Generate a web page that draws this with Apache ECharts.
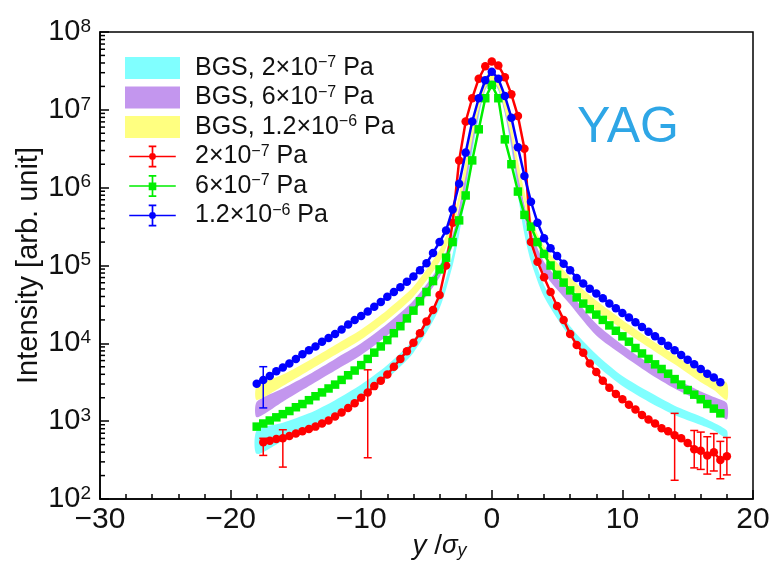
<!DOCTYPE html>
<html>
<head>
<meta charset="utf-8">
<title>YAG beam profile</title>
<script src="https://cdn.jsdelivr.net/npm/echarts@6/dist/echarts.min.js"></script>
<style>
  html, body { margin: 0; padding: 0; background: #fff; }
  #chart { width: 772px; height: 562px; }
</style>
</head>
<body>
<div id="chart"></div>
<script>
// Positions along the profile, in units of the beam size sigma_y
const positions = [-18, -17.5, -17, -16.5, -16, -15.5, -15, -14.5, -14, -13.5, -13, -12.5, -12, -11.5, -11, -10.5,
  -10, -9.5, -9, -8.5, -8, -7.5, -7, -6.5, -6, -5.5, -5, -4.5, -4, -3.5, -3, -2.5, -2, -1.5, -1, -0.5,
  0, 0.5, 1, 1.5, 2, 2.5, 3, 3.5, 4, 4.5, 5, 5.5, 6, 6.5, 7, 7.5, 8, 8.5, 9, 9.5, 10, 10.5,
  11, 11.5, 12, 12.5, 13, 13.5, 14, 14.5, 15, 15.5, 16, 16.5, 17, 17.5, 18];

// Measured intensity at 2e-7 Pa
const red = [null, 537, 562, 589, 603, 646, 692, 741, 794, 851, 933, 1020, 1150, 1290, 1480, 1700,
  2000, 2340, 2820, 3310, 3980, 5010, 6310, 7940, 10200, 13500, 19100, 26900, 41700, 100000, 355000, 2240000, 7080000, 14100000, 25100000, 36300000,
  41700000, 37200000, 26300000, 15800000, 8320000, 3160000, 200000, 112000, 70800, 45700, 30200, 20000, 13200, 9550, 7590, 5500, 4270, 3310, 2690, 2240, 1910, 1620,
  1410, 1200, 1050, 933, 813, 741, 661, 603, 525, 437, 417, 363, 398, 316, 355];

// Measured intensity at 6e-7 Pa
const green = [851, 933, 1020, 1120, 1230, 1350, 1510, 1660, 1860, 2090, 2340, 2630, 2950, 3390, 3890, 4470,
  5250, 6310, 7590, 9120, 11000, 13500, 16600, 20900, 26300, 34700, 45700, 63100, 89100, 126000, 200000, 380000, 794000, 2240000, 5620000, 14100000,
  20900000, 14100000, 4170000, 2000000, 891000, 447000, 316000, 200000, 141000, 100000, 75900, 60300, 47900, 38900, 32400, 27500, 23400, 20000, 17000, 14500, 12300, 10500,
  8710, 7410, 6310, 5370, 4680, 4070, 3470, 2950, 2510, 2190, 1910, 1660, 1450, 1260, null];

// Measured intensity at 1.2e-6 Pa
const blue = [3020, 3390, 3800, 4370, 4900, 5500, 6310, 7240, 8130, 9120, 10500, 11700, 13200, 15100, 17400, 20000,
  22400, 25700, 29500, 33900, 39800, 45700, 52500, 61700, 72400, 87100, 107000, 145000, 200000, 282000, 525000, 1120000, 2820000, 7080000, 14100000, 24000000,
  30900000, 25100000, 15100000, 7940000, 3310000, 1410000, 661000, 355000, 224000, 166000, 132000, 105000, 87100, 69200, 58900, 50100, 43700, 38000, 32400, 28200, 24500, 21400,
  18600, 16200, 14100, 12300, 10700, 9330, 8130, 7080, 6170, 5370, 4680, 4070, 3630, 3160, null];

// Error bars: [position, low, high]
const redErrors = [[-17.5, 363, 603], [-16, 257, 776], [-9.5, 339, 4570], [14, 174, 1260],
  [15.5, 251, 759], [16, 240, 724], [16.5, 209, 631], [17, 229, 692], [17.5, 182, 550], [18, 204, 617]];
const blueErrors = [[-17.5, 1480, 5010]];

// Beam-gas scattering simulation bands (lower / upper edge)
const bandPositions = [-18, -16, -14, -12, -10, -8, -6, -4, -3, -2.5, -2, -1.5, -1, -0.5, 0, 0.5, 1, 1.5, 2, 2.5, 3, 4, 6, 8, 10, 12, 14, 16, 17, 18];
const cyanLow = [380, 562, 832, 1260, 2000, 3550, 7590, 28200, 100000, 251000, 794000, 2820000, 7940000, 17800000, 22400000, 17800000, 8910000, 3160000, 794000, 251000, 112000, 39800, 12000, 5250, 2820, 1780, 1200, 891, 759, 603];
const cyanHigh = [759, 955, 1260, 1860, 2950, 5250, 11200, 39800, 141000, 380000, 1260000, 4470000, 12600000, 25100000, 31600000, 25100000, 12600000, 4790000, 1260000, 398000, 178000, 56200, 16600, 7240, 3800, 2400, 1580, 1150, 955, 759];
const purpleLow = [1120, 1780, 2820, 4470, 7080, 12600, 25100, 70800, 178000, 398000, 1050000, 3310000, 8910000, 18200000, 22900000, 18200000, 9330000, 3550000, 1050000, 417000, 200000, 79400, 31600, 12600, 7080, 4170, 2630, 1780, 1410, 1050];
const purpleHigh = [1780, 2630, 3980, 6310, 10000, 17800, 35500, 100000, 251000, 562000, 1580000, 5010000, 13200000, 25700000, 31600000, 25700000, 13200000, 5250000, 1580000, 603000, 282000, 112000, 44700, 17800, 9550, 5620, 3550, 2400, 2040, 1700];
const yellowLow = [1860, 2820, 4470, 7080, 11200, 20000, 39800, 112000, 282000, 603000, 1410000, 4170000, 10000000, 19100000, 24000000, 19100000, 10000000, 4370000, 1410000, 631000, 282000, 126000, 52500, 26300, 15100, 8910, 5370, 3160, 2510, 1860];
const yellowHigh = [2820, 3980, 6030, 9550, 15100, 26900, 53700, 158000, 398000, 832000, 2240000, 6310000, 14100000, 26300000, 31600000, 26300000, 14100000, 6610000, 2240000, 891000, 398000, 178000, 70800, 35500, 20000, 11700, 7080, 4270, 3630, 3090];

// Axis tick values
const xTicks = { min: -30, max: 20, interval: 10 };
const yDecades = [2, 3, 4, 5, 6, 7];
const yMinorMultipliers = [2, 3, 4, 5, 6, 7, 8, 9];

const FONT = '"Liberation Sans", Arial, Helvetica, sans-serif';

function pairs(xs, ys) {
  return xs.map(function (x, i) { return [x, ys[i]]; });
}

const names = {
  cyan: 'BGS, 2×10−7 Pa',
  purple: 'BGS, 6×10−7 Pa',
  yellow: 'BGS, 1.2×10−6 Pa',
  red: '2×10−7 Pa',
  green: '6×10−7 Pa',
  blue: '1.2×10−6 Pa'
};
const legendRich = {};
legendRich[names.cyan] = '{n|BGS, 2×10}{s|−7}{n| Pa}';
legendRich[names.purple] = '{n|BGS, 6×10}{s|−7}{n| Pa}';
legendRich[names.yellow] = '{n|BGS, 1.2×10}{s|−6}{n| Pa}';
legendRich[names.red] = '{n|2×10}{s|−7}{n| Pa}';
legendRich[names.green] = '{n|6×10}{s|−7}{n| Pa}';
legendRich[names.blue] = '{n|1.2×10}{s|−6}{n| Pa}';

// Legend glyph: horizontal line, vertical error bar with caps, marker in the middle
const barGlyph = 'M0,12 h55 v2 h-55 Z M26.5,1 h2 v24 h-2 Z M23,0 h9 v2 h-9 Z M23,24 h9 v2 h-9 Z ';
const iconCircle = 'path://' + barGlyph + 'M23.5,13 a4,4 0 1,1 8,0 a4,4 0 1,1 -8,0 Z';
const iconSquare = 'path://' + barGlyph + 'M23,9 h9 v9 h-9 Z';

// Simulation band: one filled polygon between the lower and upper edges
function bandSeries(key, lo, hi, color) {
  return {
    name: names[key], type: 'custom', silent: true, z: 1,
    itemStyle: { color: color },
    data: bandPositions.map(function (x, i) { return [x, lo[i], hi[i]]; }),
    encode: { x: 0, y: [1, 2] },
    renderItem: function (params, api) {
      if (params.dataIndex !== 0) return null;
      const upper = bandPositions.map(function (x, i) { return api.coord([x, hi[i]]); });
      const lower = bandPositions.map(function (x, i) { return api.coord([x, lo[i]]); }).reverse();
      return {
        type: 'polygon',
        shape: { points: upper.concat(lower), smooth: 0.25 },
        style: { fill: color, stroke: null }
      };
    }
  };
}

function dataSeries(key, values, color, symbol, z) {
  return {
    name: names[key], type: 'line', data: pairs(positions, values),
    symbol: symbol, symbolSize: 8.5, showSymbol: true,
    itemStyle: { color: color }, lineStyle: { color: color, width: 2.5 },
    connectNulls: false, z: z, silent: true
  };
}

function errorSeries(data, color, z) {
  return {
    type: 'custom', data: data, z: z, silent: true,
    encode: { x: 0, y: [1, 2] },
    renderItem: function (params, api) {
      const x = api.value(0);
      const p1 = api.coord([x, api.value(1)]);
      const p2 = api.coord([x, api.value(2)]);
      const c = 4;
      const st = { stroke: color, lineWidth: 1.5 };
      return {
        type: 'group', children: [
          { type: 'line', shape: { x1: p1[0], y1: p1[1], x2: p2[0], y2: p2[1] }, style: st },
          { type: 'line', shape: { x1: p1[0] - c, y1: p1[1], x2: p1[0] + c, y2: p1[1] }, style: st },
          { type: 'line', shape: { x1: p2[0] - c, y1: p2[1], x2: p2[0] + c, y2: p2[1] }, style: st }
        ]
      };
    }
  };
}

// Minor ticks of the logarithmic intensity axis (2..9 in each decade)
const minorTickData = [];
yDecades.forEach(function (d) {
  yMinorMultipliers.forEach(function (m) { minorTickData.push([xTicks.min, m * Math.pow(10, d)]); });
});

const chart = echarts.init(document.getElementById('chart'), null, { renderer: 'canvas' });

const option = {
  animation: false,
  backgroundColor: '#fff',
  grid: {
    left: 100, right: 19, top: 32, bottom: 63, outerBoundsMode: 'none', containLabel: false,
    show: true, borderColor: '#000', borderWidth: 1.5, backgroundColor: 'transparent'
  },
  xAxis: {
    type: 'value', min: xTicks.min, max: xTicks.max, interval: xTicks.interval,
    name: '{i|y}{n| /}{g|σ}{sub|y}', nameLocation: 'middle', nameGap: 33, nameMoveOverlap: false,
    nameTextStyle: {
      padding: [0, 0, 0, 26],
      rich: {
        i: { fontSize: 28, fontStyle: 'italic', fontFamily: FONT, color: '#111' },
        n: { fontSize: 28, fontFamily: FONT, color: '#111' },
        g: { fontSize: 26, fontStyle: 'italic', fontFamily: FONT, color: '#111' },
        sub: { fontSize: 18, fontStyle: 'italic', fontFamily: FONT, color: '#111', verticalAlign: 'bottom', lineHeight: 22 }
      }
    },
    axisLine: { show: true, onZero: false, lineStyle: { color: '#000', width: 1.5 } },
    axisTick: { show: true, inside: true, length: 9, lineStyle: { color: '#000', width: 1.5 } },
    minorTick: { show: true, splitNumber: 5, length: 5, lineStyle: { color: '#000', width: 1.5 } },
    splitLine: { show: false },
    axisLabel: {
      margin: 6, fontSize: 30, fontFamily: FONT, color: '#111',
      formatter: function (v) { return v < 0 ? '−' + Math.abs(v) : String(v); }
    }
  },
  yAxis: {
    type: 'log', logBase: 10, min: 100, max: 1e8,
    name: 'Intensity [arb. unit]', nameLocation: 'middle', nameGap: 57, nameRotate: 90, nameMoveOverlap: false,
    nameTextStyle: { fontSize: 29, fontFamily: FONT, color: '#111' },
    axisLine: { show: true, onZero: false, lineStyle: { color: '#000', width: 1.5 } },
    axisTick: { show: true, inside: true, length: 9, lineStyle: { color: '#000', width: 1.5 } },
    splitLine: { show: false },
    axisLabel: {
      margin: 9,
      formatter: function (v) { return '{b|10}{e|' + Math.round(Math.log10(v)) + '}'; },
      rich: {
        b: { fontSize: 29, fontFamily: FONT, color: '#111', lineHeight: 30 },
        e: { fontSize: 19, fontFamily: FONT, color: '#111', verticalAlign: 'top', lineHeight: 12 }
      }
    }
  },
  legend: {
    orient: 'vertical', left: 120, top: 50, itemWidth: 55, itemHeight: 22, itemGap: 4,
    selectedMode: false,
    data: [
      { name: names.cyan, icon: 'rect' },
      { name: names.purple, icon: 'rect' },
      { name: names.yellow, icon: 'rect' },
      { name: names.red, icon: iconCircle },
      { name: names.green, icon: iconSquare },
      { name: names.blue, icon: iconCircle }
    ],
    formatter: function (name) { return legendRich[name] || name; },
    textStyle: {
      padding: [0, 0, 0, 10],
      rich: {
        n: { fontSize: 25, fontFamily: FONT, color: '#111', lineHeight: 26 },
        s: { fontSize: 16, fontFamily: FONT, color: '#111', verticalAlign: 'top', lineHeight: 10 }
      }
    }
  },
  graphic: [
    {
      type: 'text', left: 577, top: 103, silent: true,
      style: { text: 'YAG', fontSize: 50, fontFamily: FONT, fill: '#2ea6e6' }
    }
  ],
  series: [
    bandSeries('cyan', cyanLow, cyanHigh, '#80ffff'),
    bandSeries('purple', purpleLow, purpleHigh, '#c396ee'),
    bandSeries('yellow', yellowLow, yellowHigh, '#ffff80'),
    dataSeries('red', red, '#ff0000', 'circle', 3),
    errorSeries(redErrors, '#ff0000', 3),
    dataSeries('green', green, '#00ee00', 'rect', 4),
    dataSeries('blue', blue, '#0000ff', 'circle', 5),
    errorSeries(blueErrors, '#0000ff', 5),
    {
      type: 'custom', data: minorTickData, silent: true, z: 6, clip: false,
      renderItem: function (params, api) {
        const p = api.coord([api.value(0), api.value(1)]);
        return { type: 'line', shape: { x1: p[0], y1: p[1], x2: p[0] + 5, y2: p[1] }, style: { stroke: '#000', lineWidth: 1.5 } };
      }
    }
  ]
};

chart.setOption(option);
</script>
</body>
</html>
